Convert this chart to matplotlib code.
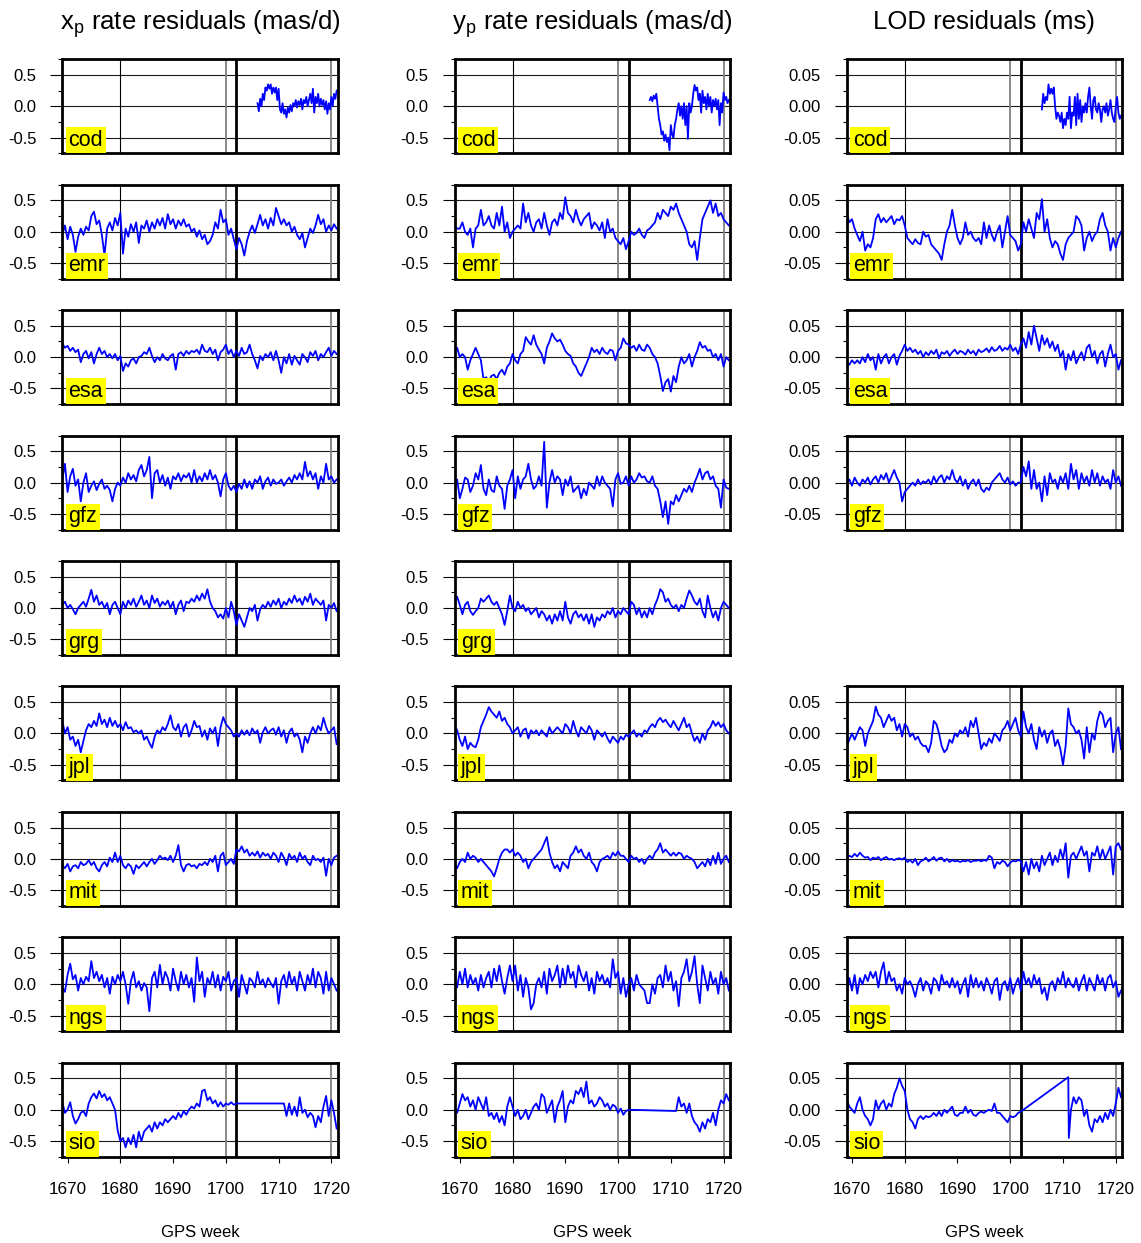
import numpy as np
import matplotlib
matplotlib.use('Agg')
import matplotlib.pyplot as plt

plt.rcParams['font.family'] = ['Liberation Sans', 'DejaVu Sans']
plt.rcParams['mathtext.fontset'] = 'custom'
plt.rcParams['mathtext.rm'] = 'Liberation Sans'

# ---------------- data (GPS weeks, residuals) ----------------
CENTERS = ['cod', 'emr', 'esa', 'gfz', 'grg', 'jpl', 'mit', 'ngs', 'sio']
TITLES = [r'x$_\mathregular{p}$ rate residuals (mas/d)',
          r'y$_\mathregular{p}$ rate residuals (mas/d)',
          'LOD residuals (ms)']
XTICKS = [1670, 1680, 1690, 1700, 1710, 1720]
YTICK_LABELS_RATE = ['-0.5', '0.0', '0.5']
YTICK_LABELS_LOD = ['-0.05', '0.00', '0.05']

FULL_START = 1669.0      # full series: half-week sampling
COD_START = 1706.0       # cod series: quarter-week sampling
SIO_GAP_END = 1711.0

# ---- x_p rate residuals (mas/d)
XP_COD = [0.05, -0.08, 0.12, 0.0, 0.2, 0.1, 0.3, 0.25, 0.35, 0.28,
          0.35, 0.2, 0.3, 0.22, 0.3, 0.1, 0.28, -0.05, -0.1, 0.05,
          -0.12, -0.05, -0.18, -0.02, -0.1, 0.02, -0.08, 0.05, 0.0, 0.1,
          -0.02, 0.08, 0.02, 0.12, -0.05, 0.1, 0.05, 0.15, 0.0, 0.1,
          0.2, 0.05, 0.28, -0.1, 0.15, 0.05, 0.2, 0.0, 0.12, 0.02,
          0.1, -0.05, 0.08, -0.12, 0.05, -0.05, 0.15, 0.0, 0.2, 0.12,
          0.25]
XP_EMR = [-0.05, 0.1, -0.12, 0.08, -0.05, -0.32, -0.08, 0.05, -0.05, 0.08,
          0.02, 0.25, 0.32, 0.12, 0.18, -0.05, -0.38, 0.05, 0.15, 0.02,
          0.22, 0.1, 0.3, -0.35, 0.05, -0.08, 0.12, 0.0, 0.15, -0.18,
          0.1, 0.05, 0.18, 0.0, 0.15, 0.05, 0.2, 0.1, 0.22, 0.05,
          0.28, 0.12, 0.2, 0.05, 0.18, 0.1, 0.2, 0.08, 0.12, 0.0,
          0.05, -0.08, 0.02, -0.12, -0.05, -0.2, -0.15, -0.05, 0.15, 0.05,
          0.35, 0.15, 0.2, -0.05, 0.05, -0.12, -0.28, -0.1, -0.2, -0.38,
          -0.15, 0.0, 0.1, -0.02, 0.12, 0.27, 0.1, 0.2, 0.05, 0.22,
          0.1, 0.38, 0.25, 0.12, 0.2, 0.1, 0.15, 0.0, 0.08, -0.05,
          -0.12, -0.02, -0.25, -0.1, 0.05, -0.02, 0.1, 0.27, 0.12, 0.2,
          0.0, 0.1, 0.02, 0.12, 0.05]
XP_ESA = [0.22, 0.15, 0.18, 0.1, 0.15, 0.08, 0.12, -0.08, 0.05, 0.1,
          -0.02, 0.08, -0.1, 0.05, 0.15, 0.05, 0.1, 0.0, 0.05, -0.02,
          0.05, -0.05, 0.02, -0.22, -0.1, -0.15, -0.05, -0.02, -0.1, 0.0,
          0.02, 0.08, 0.05, 0.15, 0.02, -0.08, 0.0, -0.05, 0.05, -0.02,
          -0.05, 0.02, 0.05, -0.2, 0.05, 0.08, 0.02, 0.1, 0.05, 0.1,
          0.08, 0.12, 0.05, 0.2, 0.1, 0.08, 0.15, 0.05, 0.12, -0.05,
          0.08, 0.12, 0.2, 0.05, 0.12, 0.0, 0.1, 0.02, 0.15, 0.05,
          0.08, 0.2, 0.05, -0.05, -0.18, 0.02, -0.05, 0.05, 0.0, 0.08,
          -0.05, 0.1, -0.05, -0.25, 0.0, -0.1, 0.05, -0.12, 0.02, -0.05,
          -0.12, 0.05, 0.0, -0.08, 0.08, 0.02, 0.1, -0.05, 0.05, 0.0,
          0.08, 0.15, 0.02, 0.1, 0.05]
XP_GFZ = [0.05, 0.3, -0.15, 0.1, 0.22, -0.05, 0.05, -0.3, 0.0, 0.15,
          -0.15, -0.05, 0.02, -0.12, -0.02, 0.05, -0.1, -0.05, -0.12, -0.3,
          -0.1, 0.0, -0.05, 0.08, 0.0, 0.15, 0.05, 0.12, 0.02, 0.2,
          0.28, 0.1, 0.2, 0.41, -0.25, 0.15, 0.2, 0.0, 0.12, -0.05,
          0.08, -0.1, 0.1, 0.05, 0.15, 0.02, 0.12, 0.08, 0.15, 0.0,
          0.2, 0.0, 0.1, 0.02, 0.15, 0.05, 0.2, 0.05, 0.12, 0.0,
          -0.22, 0.05, 0.15, -0.05, -0.12, -0.05, -0.15, -0.02, -0.1, 0.05,
          -0.08, 0.02, -0.1, 0.05, 0.0, 0.1, -0.1, 0.02, 0.08, -0.05,
          0.05, -0.02, 0.0, 0.05, -0.05, 0.02, 0.08, 0.0, 0.12, 0.05,
          0.15, 0.05, 0.33, 0.1, 0.18, 0.05, 0.15, -0.1, 0.1, 0.0,
          0.3, 0.05, 0.1, 0.0, 0.05]
XP_GRG = [0.05, 0.1, 0.0, 0.05, -0.02, -0.1, 0.0, 0.05, 0.1, 0.02,
          0.15, 0.29, 0.1, 0.2, 0.05, 0.1, 0.0, 0.08, -0.1, 0.05,
          0.1, 0.0, -0.1, 0.1, 0.0, 0.12, 0.05, 0.15, 0.02, 0.1,
          0.2, 0.05, 0.12, 0.0, 0.2, 0.08, 0.15, 0.02, 0.1, 0.05,
          0.12, 0.0, 0.1, -0.1, 0.05, 0.12, -0.05, 0.1, 0.08, 0.15,
          0.1, 0.2, 0.12, 0.23, 0.15, 0.3, 0.1, 0.0, -0.05, -0.15,
          -0.1, -0.17, 0.0, -0.15, 0.1, -0.05, -0.27, -0.1, -0.2, -0.3,
          -0.15, 0.0, -0.05, 0.05, -0.2, -0.02, 0.05, 0.0, 0.1, 0.02,
          0.12, 0.05, 0.15, 0.0, 0.1, 0.05, 0.15, 0.08, 0.2, 0.1,
          0.15, 0.05, 0.18, 0.1, 0.23, 0.05, 0.15, 0.1, 0.05, 0.12,
          -0.2, 0.05, 0.0, 0.08, -0.05]
XP_JPL = [0.2, 0.0, 0.1, -0.1, -0.05, -0.2, -0.1, -0.3, -0.12, 0.05,
          0.15, 0.1, 0.2, 0.12, 0.32, 0.15, 0.22, 0.1, 0.25, 0.12,
          0.2, 0.1, 0.15, 0.05, 0.18, 0.08, 0.1, 0.02, 0.05, 0.0,
          0.05, -0.1, -0.05, -0.15, -0.23, -0.05, 0.05, 0.0, 0.1, 0.05,
          0.15, 0.29, 0.1, 0.05, 0.15, -0.05, 0.1, 0.15, -0.05, 0.05,
          0.2, 0.1, 0.12, -0.05, 0.05, -0.1, 0.08, 0.0, 0.1, -0.2,
          0.1, 0.26, 0.15, 0.1, 0.05, -0.05, 0.0, -0.05, 0.05, -0.02,
          0.05, -0.03, 0.08, 0.0, 0.05, -0.15, 0.02, 0.1, 0.0, 0.05,
          0.08, -0.02, 0.1, -0.05, 0.05, -0.15, 0.02, 0.08, -0.05, 0.0,
          -0.1, -0.3, -0.05, -0.15, 0.0, 0.1, 0.0, 0.12, 0.05, 0.25,
          0.1, 0.0, 0.05, 0.1, -0.17]
XP_MIT = [-0.1, -0.15, -0.08, -0.2, -0.12, -0.1, -0.15, -0.05, -0.1, -0.08,
          -0.02, -0.1, -0.05, -0.15, -0.2, -0.1, -0.05, -0.12, 0.02, -0.05,
          0.1, -0.05, 0.05, -0.1, -0.15, -0.08, -0.12, -0.24, -0.1, -0.15,
          -0.1, -0.05, -0.12, -0.05, 0.0, -0.08, -0.02, 0.05, 0.0, 0.02,
          -0.02, 0.05, -0.05, 0.05, 0.22, -0.1, -0.2, -0.1, -0.08, -0.12,
          -0.1, -0.15, -0.08, -0.1, -0.05, -0.1, 0.0, -0.05, 0.05, -0.2,
          0.05, 0.1, -0.1, -0.05, 0.0, -0.08, 0.15, 0.12, 0.2, 0.1,
          0.15, 0.05, 0.1, 0.05, 0.12, 0.02, 0.1, 0.05, 0.08, 0.0,
          0.1, 0.05, -0.05, 0.1, 0.02, -0.1, 0.08, 0.0, 0.05, -0.05,
          0.1, 0.0, 0.05, -0.05, -0.1, 0.05, -0.02, 0.0, -0.05, 0.02,
          -0.27, 0.0, -0.1, 0.02, 0.05]
XP_NGS = [-0.05, -0.12, 0.15, 0.33, 0.08, 0.15, -0.1, 0.1, 0.0, 0.12,
          0.05, 0.37, 0.1, 0.2, 0.05, 0.15, -0.05, 0.1, -0.15, 0.12,
          0.0, 0.15, 0.05, 0.2, 0.0, -0.31, 0.05, 0.2, -0.05, 0.05,
          -0.1, 0.02, -0.05, -0.43, 0.1, 0.2, -0.05, 0.31, 0.0, 0.2,
          0.1, -0.1, 0.25, 0.05, -0.1, 0.2, 0.0, 0.15, -0.05, 0.1,
          -0.28, 0.43, 0.05, 0.2, -0.2, 0.1, 0.0, 0.2, -0.05, 0.15,
          -0.1, 0.12, 0.05, 0.2, -0.1, 0.05, 0.1, -0.2, 0.15, 0.0,
          -0.15, 0.1, 0.05, -0.05, 0.2, 0.0, 0.08, -0.05, 0.1, 0.02,
          -0.05, 0.1, -0.31, 0.05, 0.15, -0.05, 0.2, 0.0, 0.12, -0.1,
          0.2, 0.05, -0.1, 0.15, 0.0, 0.25, -0.05, 0.2, 0.1, -0.15,
          0.2, -0.1, 0.1, 0.0, -0.1]
XP_SIO_A = [0.12, -0.05, 0.0, 0.12, -0.1, -0.22, -0.15, -0.05, -0.02, -0.1,
            0.1, 0.2, 0.26, 0.18, 0.3, 0.2, 0.25, 0.15, 0.2, 0.1,
            0.0, -0.33, -0.5, -0.45, -0.6, -0.45, -0.55, -0.4, -0.6, -0.35,
            -0.5, -0.35, -0.3, -0.25, -0.35, -0.2, -0.3, -0.2, -0.25, -0.15,
            -0.2, -0.15, -0.1, -0.15, -0.05, -0.12, -0.02, -0.08, 0.0, 0.05,
            0.02, 0.1, 0.05, 0.3, 0.32, 0.15, 0.2, 0.1, 0.15, 0.05,
            0.12, 0.05, 0.1, 0.08, 0.12, 0.08, 0.1]
XP_SIO_B = [0.1, -0.1, 0.1, -0.08, 0.05, -0.1, 0.2, -0.05, 0.0, -0.12,
            -0.05, -0.1, -0.28, -0.1, -0.2, 0.05, 0.22, -0.1, 0.15, -0.05,
            -0.3]

# ---- y_p rate residuals (mas/d)
YP_COD = [0.1, 0.15, 0.08, 0.17, 0.12, 0.2, 0.0, -0.2, -0.3, -0.45,
          -0.4, -0.55, -0.45, -0.57, -0.5, -0.7, -0.3, -0.45, -0.5, -0.3,
          -0.2, -0.05, 0.05, -0.15, 0.0, -0.2, 0.05, -0.3, 0.0, -0.52,
          0.05, -0.1, 0.0, 0.2, 0.34, 0.25, 0.3, 0.1, 0.2, -0.1,
          0.25, 0.05, 0.15, -0.05, 0.2, 0.0, 0.15, -0.1, 0.1, 0.0,
          0.12, -0.05, 0.1, -0.3, 0.05, -0.1, 0.22, 0.1, 0.15, 0.05,
          0.1]
YP_EMR = [0.1, 0.05, 0.05, 0.15, 0.0, -0.05, 0.05, -0.25, 0.05, 0.1,
          0.35, 0.1, 0.15, 0.25, 0.1, 0.05, 0.3, 0.1, 0.4, 0.0,
          0.15, -0.1, 0.0, 0.05, 0.1, 0.05, 0.45, 0.15, 0.3, 0.1,
          0.0, 0.15, 0.2, 0.05, 0.3, 0.1, -0.05, 0.15, 0.2, 0.1,
          0.3, 0.2, 0.55, 0.3, 0.25, 0.15, 0.35, 0.2, 0.1, 0.2,
          0.25, 0.3, 0.05, 0.15, 0.1, 0.02, 0.15, -0.1, 0.2, 0.0,
          0.05, -0.1, -0.15, -0.2, -0.1, -0.28, -0.15, 0.0, -0.05, -0.02,
          0.05, -0.05, -0.1, 0.02, 0.05, 0.1, 0.15, 0.3, 0.2, 0.35,
          0.3, 0.25, 0.4, 0.35, 0.45, 0.3, 0.2, 0.1, 0.0, -0.2,
          -0.25, -0.15, -0.45, -0.1, 0.2, 0.3, 0.4, 0.5, 0.3, 0.45,
          0.25, 0.3, 0.2, 0.15, 0.1]
YP_ESA = [0.1, 0.15, 0.0, 0.05, 0.0, -0.2, -0.05, 0.05, 0.15, 0.05,
          -0.05, -0.35, -0.32, -0.38, -0.3, -0.28, -0.35, -0.25, -0.2, -0.28,
          -0.15, -0.1, 0.05, -0.05, -0.1, 0.05, 0.1, 0.32, 0.25, 0.2,
          0.35, 0.2, 0.12, 0.05, -0.1, 0.15, 0.25, 0.38, 0.3, 0.25,
          0.28, 0.2, 0.1, 0.05, 0.02, -0.1, -0.15, -0.25, -0.3, -0.2,
          -0.1, 0.0, 0.15, 0.08, 0.12, 0.05, 0.15, 0.08, 0.05, 0.12,
          0.1, -0.05, 0.1, 0.15, 0.3, 0.22, 0.2, 0.15, 0.18, 0.1,
          0.2, 0.12, 0.1, 0.2, 0.15, 0.05, 0.0, -0.1, -0.3, -0.54,
          -0.4, -0.35, -0.55, -0.3, -0.4, -0.15, 0.0, -0.1, -0.05, 0.05,
          -0.15, 0.0, 0.1, 0.24, 0.15, 0.18, 0.1, 0.12, 0.0, 0.05,
          -0.05, 0.05, -0.15, 0.0, -0.05]
YP_GFZ = [-0.05, 0.05, -0.25, -0.1, 0.08, 0.05, -0.15, -0.05, 0.15, 0.05,
          0.28, -0.1, -0.2, 0.05, -0.12, -0.15, 0.1, -0.05, -0.1, -0.42,
          -0.05, 0.05, 0.2, -0.25, 0.1, -0.1, 0.05, 0.1, 0.3, 0.05,
          -0.1, -0.05, 0.1, -0.05, 0.65, -0.4, 0.0, 0.2, 0.0, 0.1,
          0.05, -0.2, 0.05, -0.05, 0.1, -0.15, -0.1, -0.05, -0.25, -0.1,
          -0.2, 0.0, -0.05, -0.1, 0.1, -0.05, 0.1, 0.0, -0.05, -0.1,
          -0.38, 0.05, 0.15, -0.02, 0.0, 0.1, -0.05, 0.1, 0.0, 0.05,
          0.15, 0.08, 0.1, 0.02, 0.0, 0.1, -0.05, -0.1, -0.3, -0.55,
          -0.3, -0.66, -0.3, -0.35, -0.2, -0.3, -0.2, -0.1, -0.15, -0.05,
          -0.15, 0.0, 0.1, 0.22, 0.05, 0.15, 0.18, 0.05, 0.1, -0.05,
          -0.1, -0.4, 0.05, -0.08, -0.1]
YP_GRG = [0.1, 0.18, 0.05, -0.1, 0.05, 0.1, -0.05, -0.11, -0.05, 0.0,
          0.15, 0.1, 0.15, 0.2, 0.1, 0.05, 0.1, 0.0, -0.1, -0.27,
          -0.05, 0.2, 0.0, -0.05, 0.1, 0.0, 0.05, -0.05, 0.0, -0.1,
          -0.05, 0.0, -0.15, -0.05, -0.1, -0.2, -0.12, -0.25, -0.1, -0.2,
          -0.05, -0.2, 0.1, -0.15, -0.25, -0.1, -0.05, -0.15, -0.1, -0.2,
          -0.1, -0.25, -0.1, -0.3, -0.15, -0.2, -0.1, -0.15, -0.05, -0.1,
          0.0, -0.15, -0.05, -0.1, 0.0, -0.05, -0.1, 0.1, 0.05, -0.1,
          0.0, -0.15, -0.05, -0.15, 0.0, -0.1, 0.05, 0.15, 0.3, 0.25,
          0.1, 0.15, 0.05, 0.0, 0.05, -0.05, 0.05, 0.0, 0.15, 0.28,
          0.2, 0.1, 0.05, 0.15, -0.05, -0.15, 0.2, 0.0, -0.15, -0.05,
          -0.2, 0.0, 0.1, 0.05, 0.0]
YP_JPL = [0.13, 0.05, -0.1, -0.2, -0.05, -0.25, -0.15, -0.2, -0.22, -0.1,
          0.1, 0.2, 0.3, 0.42, 0.35, 0.3, 0.25, 0.35, 0.2, 0.25,
          0.15, 0.1, 0.0, 0.05, 0.1, -0.05, 0.05, 0.08, -0.08, 0.05,
          0.0, 0.05, -0.03, 0.05, 0.0, -0.05, 0.1, 0.0, 0.05, 0.1,
          0.05, 0.0, 0.15, 0.1, 0.0, 0.2, 0.05, -0.05, 0.1, 0.05,
          0.0, 0.12, 0.05, -0.1, 0.05, 0.0, -0.05, 0.02, -0.08, -0.15,
          -0.05, -0.1, -0.15, -0.05, -0.1, -0.02, -0.05, 0.0, 0.05, -0.05,
          0.0, -0.05, 0.05, 0.02, 0.1, 0.15, 0.1, 0.2, 0.25, 0.18,
          0.22, 0.15, 0.1, 0.2, 0.12, 0.05, 0.15, 0.25, 0.1, 0.15,
          0.0, -0.12, -0.05, -0.15, 0.0, -0.1, 0.05, 0.1, 0.2, 0.12,
          0.18, 0.1, 0.15, 0.05, 0.0]
YP_MIT = [-0.1, -0.15, -0.05, 0.0, -0.05, 0.1, 0.0, 0.05, 0.02, -0.05,
          0.0, -0.05, -0.1, -0.15, -0.2, -0.28, -0.15, 0.0, 0.1, 0.15,
          0.15, 0.1, 0.15, 0.05, 0.1, 0.05, -0.05, 0.0, -0.15, -0.05,
          0.0, 0.05, 0.1, 0.15, 0.25, 0.35, 0.1, -0.05, -0.15, -0.1,
          -0.2, -0.05, -0.1, -0.15, 0.05, 0.1, 0.2, 0.1, 0.15, 0.05,
          0.0, 0.1, -0.05, -0.1, -0.2, -0.05, 0.0, 0.02, 0.05, 0.0,
          0.1, 0.05, 0.12, 0.05, 0.05, 0.0, -0.05, 0.05, 0.0, 0.02,
          -0.05, 0.0, -0.08, 0.0, 0.05, 0.0, 0.1, 0.15, 0.25, 0.1,
          0.15, 0.1, 0.05, 0.1, 0.05, 0.1, 0.08, 0.0, 0.05, 0.02,
          0.0, -0.05, -0.15, -0.1, -0.05, -0.12, 0.0, -0.1, 0.05, -0.08,
          0.1, -0.08, 0.0, 0.05, -0.05]
YP_NGS = [0.05, -0.05, 0.2, 0.0, 0.25, -0.05, 0.15, 0.0, 0.1, -0.1,
          0.15, -0.05, 0.1, 0.2, -0.05, 0.25, 0.05, 0.3, 0.05, -0.15,
          0.1, 0.3, 0.05, 0.3, -0.1, 0.15, -0.2, 0.1, -0.05, -0.4,
          -0.3, 0.0, 0.1, -0.05, 0.2, -0.15, 0.25, 0.05, 0.15, 0.3,
          -0.05, 0.25, 0.0, 0.3, 0.1, 0.2, -0.05, 0.3, 0.15, 0.05,
          0.2, -0.1, 0.1, -0.15, 0.2, 0.05, 0.15, 0.0, 0.1, -0.05,
          0.4, 0.1, 0.2, -0.15, 0.1, -0.2, 0.0, 0.1, -0.1, 0.15,
          0.0, -0.05, -0.1, -0.3, -0.3, 0.0, -0.15, 0.1, 0.15, -0.05,
          0.3, 0.05, 0.2, -0.1, 0.05, -0.35, 0.1, 0.2, 0.4, 0.05,
          0.2, 0.45, 0.0, -0.3, 0.3, 0.1, -0.1, 0.2, 0.0, 0.1,
          -0.15, 0.2, 0.0, 0.1, -0.1]
YP_SIO_A = [0.0, -0.05, 0.1, 0.25, 0.15, 0.2, 0.05, 0.15, 0.0, 0.2,
            0.1, 0.0, 0.2, -0.1, -0.05, -0.15, -0.05, -0.2, -0.1, -0.25,
            0.05, 0.2, 0.05, -0.1, 0.0, -0.15, -0.1, 0.0, -0.15, -0.05,
            0.05, 0.1, 0.0, 0.25, 0.2, -0.05, 0.05, 0.15, -0.2, 0.05,
            0.15, 0.3, -0.2, 0.05, 0.15, 0.1, 0.3, 0.25, 0.35, 0.2,
            0.45, 0.1, 0.15, 0.05, 0.1, 0.2, 0.15, 0.05, 0.1, 0.0,
            0.08, 0.05, -0.05, 0.02, -0.08, -0.02, 0.0]
YP_SIO_B = [-0.02, 0.2, 0.05, 0.1, -0.05, 0.1, -0.1, -0.2, -0.25, -0.35,
            -0.2, -0.3, -0.15, -0.2, -0.05, -0.25, 0.0, 0.15, 0.1, 0.25,
            0.15]

# ---- LOD residuals (ms)
LOD_COD = [-0.005, 0.02, 0.005, 0.015, 0.01, 0.035, 0.02, 0.028, 0.02, 0.03,
           0.0, -0.02, -0.01, -0.015, -0.025, -0.01, -0.035, -0.02, -0.03, -0.01,
           -0.02, 0.015, -0.035, -0.01, -0.015, 0.015, -0.03, 0.02, -0.02, 0.01,
           -0.025, 0.0, -0.01, 0.005, -0.01, 0.015, 0.03, 0.0, -0.02, 0.01,
           0.015, -0.005, -0.01, 0.005, -0.005, -0.025, -0.005, 0.0, -0.01, 0.005,
           -0.015, -0.005, 0.01, -0.01, -0.02, -0.025, 0.0, 0.015, -0.01, -0.02,
           -0.015]
LOD_EMR = [0.03, 0.015, 0.02, 0.005, -0.005, -0.015, 0.0, -0.03, -0.02, -0.025,
           -0.01, 0.02, 0.028, 0.015, 0.022, 0.015, 0.02, 0.025, 0.012, 0.02,
           0.018, 0.025, 0.01, -0.01, -0.015, -0.02, -0.012, -0.018, -0.02, 0.0,
           -0.008, -0.005, -0.02, -0.025, -0.03, -0.035, -0.045, -0.02, 0.0, 0.01,
           0.035, 0.01, -0.01, -0.02, -0.01, 0.015, -0.005, 0.0, -0.01, -0.015,
           -0.01, -0.02, 0.015, -0.01, 0.01, -0.005, -0.015, 0.0, 0.01, -0.025,
           0.0, 0.025, -0.005, -0.01, -0.015, -0.03, -0.02, 0.015, 0.0, 0.02,
           0.005, -0.01, 0.03, 0.02, 0.052, 0.0, 0.02, -0.01, -0.025, -0.015,
           -0.02, -0.035, -0.045, -0.02, -0.01, -0.005, 0.0, 0.025, 0.02, 0.01,
           -0.03, -0.01, 0.0, -0.015, -0.005, 0.0, 0.02, 0.03, 0.01, 0.0,
           -0.03, -0.01, -0.025, -0.01, 0.0]
LOD_ESA = [-0.01, -0.012, -0.005, -0.01, -0.005, -0.01, 0.0, -0.008, 0.005, -0.005,
           0.0, -0.02, 0.005, -0.01, 0.0, 0.005, -0.01, 0.0, 0.005, -0.012,
           0.002, 0.01, 0.02, 0.01, 0.015, 0.008, 0.012, 0.005, 0.01, 0.0,
           0.008, 0.003, 0.01, 0.005, 0.012, -0.002, 0.008, 0.005, 0.01, 0.002,
           0.008, 0.012, 0.005, 0.01, 0.008, 0.004, 0.012, 0.006, 0.01, 0.003,
           0.012, 0.008, 0.01, 0.014, 0.008, 0.016, 0.01, 0.012, 0.018, 0.01,
           0.015, 0.012, 0.02, 0.01, 0.015, 0.005, 0.02, 0.03, 0.015, 0.04,
           0.02, 0.05, 0.03, 0.01, 0.035, 0.02, 0.03, 0.015, 0.025, 0.01,
           0.02, 0.0, 0.01, -0.02, 0.005, -0.005, 0.01, -0.01, 0.0, 0.008,
           -0.005, 0.015, 0.02, 0.0, 0.01, -0.01, 0.005, 0.01, -0.015, 0.005,
           0.02, 0.0, 0.005, -0.02, -0.005]
LOD_GFZ = [0.0, 0.005, -0.005, 0.008, 0.0, -0.005, 0.005, 0.0, 0.008, -0.003,
           0.005, 0.01, 0.0, 0.012, 0.005, 0.015, 0.0, 0.01, 0.02, 0.008,
           0.0, -0.03, -0.015, -0.01, -0.005, 0.0, -0.005, 0.005, -0.003, 0.002,
           0.0, 0.005, -0.003, 0.01, 0.0, 0.008, 0.012, 0.0, 0.01, 0.005,
           0.02, 0.005, 0.0, 0.01, -0.005, 0.005, -0.01, 0.0, 0.005, -0.005,
           0.005, -0.01, -0.015, -0.008, -0.012, 0.0, 0.005, 0.01, 0.015, 0.005,
           0.0, 0.008, -0.003, 0.002, -0.005, 0.0, 0.0, 0.025, 0.01, 0.034,
           -0.01, 0.02, -0.01, 0.0, -0.03, 0.01, -0.02, 0.015, 0.0, 0.005,
           -0.01, 0.01, 0.0, 0.015, -0.01, 0.03, 0.005, 0.02, -0.01, 0.015,
           0.0, 0.01, -0.005, 0.02, 0.0, 0.015, -0.005, 0.01, 0.0, 0.005,
           -0.01, 0.02, 0.0, 0.01, -0.005]
LOD_JPL = [-0.02, -0.01, 0.0, -0.01, 0.0, 0.01, 0.005, -0.02, 0.0, 0.01,
           0.02, 0.043, 0.03, 0.025, 0.01, 0.02, 0.03, 0.02, 0.025, 0.005,
           0.015, -0.005, 0.015, 0.01, -0.005, 0.0, -0.01, -0.005, -0.015, -0.02,
           -0.02, -0.03, -0.015, 0.02, 0.015, 0.0, -0.02, -0.03, -0.025, -0.01,
           -0.015, 0.0, -0.005, 0.005, 0.0, 0.01, -0.005, 0.02, 0.01, 0.025,
           0.0, -0.025, -0.015, -0.02, -0.008, -0.015, 0.0, -0.005, -0.012, 0.005,
           0.01, 0.02, 0.005, 0.015, 0.025, 0.005, -0.005, 0.035, 0.01, 0.0,
           0.015, -0.01, -0.025, 0.01, -0.005, 0.005, -0.015, 0.0, 0.005, -0.02,
           -0.01, -0.025, -0.05, -0.02, 0.04, 0.015, 0.01, 0.0, 0.005, -0.01,
           -0.04, 0.01, -0.03, 0.0, -0.01, 0.02, 0.035, 0.03, 0.01, 0.02,
           0.025, -0.03, 0.0, 0.01, -0.025]
LOD_MIT = [0.002, 0.005, 0.003, 0.008, 0.004, 0.01, 0.005, 0.002, 0.003, -0.002,
           0.002, 0.0, 0.003, -0.002, 0.001, 0.003, -0.001, 0.0, -0.002, 0.0,
           0.001, -0.001, 0.002, -0.005, -0.002, -0.006, 0.0, -0.01, -0.004, -0.002,
           0.002, -0.004, -0.001, 0.003, -0.003, 0.001, 0.002, -0.004, 0.0, -0.005,
           -0.002, -0.004, -0.003, -0.005, -0.003, -0.004, -0.002, -0.005, -0.003, -0.003,
           -0.002, -0.004, -0.002, -0.003, 0.005, 0.002, -0.015, -0.005, -0.008, -0.003,
           -0.005, -0.012, -0.006, -0.003, -0.004, -0.002, -0.003, -0.02, -0.005, -0.025,
           0.0, -0.015, -0.005, -0.02, 0.005, -0.01, 0.0, 0.01, -0.01, 0.005,
           -0.005, 0.015, 0.0, 0.025, -0.03, 0.005, 0.01, 0.0, 0.01, 0.02,
           0.005, 0.012, -0.02, 0.01, 0.005, 0.02, 0.0, 0.015, 0.0, 0.01,
           0.02, -0.025, 0.02, 0.025, 0.015]
LOD_NGS = [-0.015, 0.01, -0.01, 0.015, -0.015, 0.01, 0.0, 0.015, 0.005, 0.02,
           0.01, 0.02, -0.005, 0.02, 0.035, 0.0, 0.02, 0.005, 0.01, -0.01,
           0.0, -0.015, 0.01, 0.0, 0.005, -0.005, -0.02, 0.0, 0.01, -0.01,
           0.005, 0.0, -0.015, 0.01, 0.005, -0.01, 0.015, 0.0, 0.005, -0.005,
           0.01, -0.005, 0.005, -0.015, 0.0, 0.01, -0.02, 0.015, -0.005, 0.01,
           -0.005, 0.005, -0.01, 0.01, 0.0, -0.015, 0.005, 0.01, -0.025, 0.0,
           0.005, -0.01, 0.01, -0.015, 0.0, 0.01, -0.01, 0.02, 0.0, 0.01,
           -0.005, 0.015, 0.0, 0.01, -0.015, -0.005, -0.025, 0.0, 0.005, -0.01,
           0.01, 0.0, 0.02, -0.005, 0.01, 0.0, -0.005, 0.01, -0.01, 0.005,
           0.015, -0.01, 0.01, 0.0, -0.01, 0.015, 0.0, 0.01, -0.01, 0.01,
           0.015, -0.005, 0.005, -0.02, -0.01]
LOD_SIO_A = [0.015, 0.005, 0.0, -0.005, 0.01, 0.02, 0.0, -0.01, -0.015, -0.025,
             -0.015, 0.015, 0.0, 0.01, 0.015, 0.0, 0.01, 0.005, 0.025, 0.035,
             0.05, 0.038, 0.03, 0.0, -0.015, -0.02, -0.03, -0.015, -0.01, -0.015,
             -0.01, -0.012, -0.01, -0.005, -0.01, -0.003, -0.01, 0.0, -0.005, 0.0,
             0.005, -0.008, -0.01, -0.005, -0.005, 0.005, -0.005, 0.0, -0.008, -0.01,
             -0.005, -0.003, -0.005, -0.002, 0.0, -0.002, 0.01, -0.005, -0.005, -0.01,
             -0.015, -0.02, -0.01, -0.012, -0.01, -0.005, -0.003]
LOD_SIO_B_WEEKS = [1711.0, 1711.1, 1711.5, 1712.0, 1712.5, 1713.0, 1713.5, 1714.0,
                   1714.5, 1715.0, 1715.5, 1716.0, 1716.5, 1717.0, 1717.5, 1718.0,
                   1718.5, 1719.0, 1719.5, 1720.0, 1720.5, 1721.0]
LOD_SIO_B = [0.052, -0.045, 0.0, 0.02, 0.01, 0.02, 0.015, -0.01,
             0.0, -0.025, -0.035, -0.015, -0.02, -0.01, -0.02, -0.005,
             -0.015, 0.0, -0.01, 0.01, 0.035, 0.02]


def regular(start, vals, step):
    return start + step * np.arange(len(vals)), np.asarray(vals, float)


def sio(a_vals, b_vals, b_weeks=None):
    xa = FULL_START + 0.5 * np.arange(len(a_vals))
    xb = (np.asarray(b_weeks, float) if b_weeks is not None
          else SIO_GAP_END + 0.5 * np.arange(len(b_vals)))
    return np.concatenate([xa, xb]), np.concatenate([a_vals, b_vals]).astype(float)


COLUMNS = [
    {'cod': regular(COD_START, XP_COD, 0.25), 'emr': regular(FULL_START, XP_EMR, 0.5),
     'esa': regular(FULL_START, XP_ESA, 0.5), 'gfz': regular(FULL_START, XP_GFZ, 0.5),
     'grg': regular(FULL_START, XP_GRG, 0.5), 'jpl': regular(FULL_START, XP_JPL, 0.5),
     'mit': regular(FULL_START, XP_MIT, 0.5), 'ngs': regular(FULL_START, XP_NGS, 0.5),
     'sio': sio(XP_SIO_A, XP_SIO_B)},
    {'cod': regular(COD_START, YP_COD, 0.25), 'emr': regular(FULL_START, YP_EMR, 0.5),
     'esa': regular(FULL_START, YP_ESA, 0.5), 'gfz': regular(FULL_START, YP_GFZ, 0.5),
     'grg': regular(FULL_START, YP_GRG, 0.5), 'jpl': regular(FULL_START, YP_JPL, 0.5),
     'mit': regular(FULL_START, YP_MIT, 0.5), 'ngs': regular(FULL_START, YP_NGS, 0.5),
     'sio': sio(YP_SIO_A, YP_SIO_B)},
    {'cod': regular(COD_START, LOD_COD, 0.25), 'emr': regular(FULL_START, LOD_EMR, 0.5),
     'esa': regular(FULL_START, LOD_ESA, 0.5), 'gfz': regular(FULL_START, LOD_GFZ, 0.5),
     'jpl': regular(FULL_START, LOD_JPL, 0.5),
     'mit': regular(FULL_START, LOD_MIT, 0.5), 'ngs': regular(FULL_START, LOD_NGS, 0.5),
     'sio': sio(LOD_SIO_A, LOD_SIO_B, LOD_SIO_B_WEEKS)},
]
SCALES = [1.0, 1.0, 0.1]

# ---------------- layout ----------------
W, H = 1141, 1243
fig = plt.figure(figsize=(W / 100, H / 100), dpi=100)

PX_LEFT0, PX_COLSTEP, PX_W = 62.3, 392.2, 275.4
PX_TOP0, PX_ROWSTEP, PX_H = 59.3, 125.43, 94.0

for c in range(3):
    s = SCALES[c]
    ylabels = YTICK_LABELS_LOD if c == 2 else YTICK_LABELS_RATE
    left = PX_LEFT0 + PX_COLSTEP * c
    for r, name in enumerate(CENTERS):
        if name not in COLUMNS[c]:
            continue
        top = PX_TOP0 + PX_ROWSTEP * r
        ax = fig.add_axes([left / W, 1 - (top + PX_H) / H, PX_W / W, PX_H / H])
        ax.set_xlim(1669.0, 1721.2)
        ax.set_ylim(-0.75 * s, 0.75 * s)
        for yv in (-0.5, 0.0, 0.5):
            ax.axhline(yv * s, color='#1a1a1a', lw=0.8, zorder=1)
        ax.axvline(1680, color='black', lw=0.8, zorder=1)
        ax.axvline(1700, color='#808080', lw=1.3, zorder=1)
        ax.axvline(1720, color='#808080', lw=1.3, zorder=1)
        ax.axvline(1702, color='black', lw=2.0, zorder=2)
        x, y = COLUMNS[c][name]
        ax.plot(x, y, color='#0000ff', lw=1.3, zorder=3)
        for sp in ax.spines.values():
            sp.set_linewidth(2.0)
            sp.set_zorder(4)
        ax.set_yticks([-0.5 * s, 0.0, 0.5 * s])
        ax.set_yticklabels(ylabels)
        ax.set_yticks([-0.75 * s, -0.25 * s, 0.25 * s, 0.75 * s], minor=True)
        ax.tick_params(axis='y', which='major', length=8.6, width=0.8, pad=10,
                       labelsize=12, direction='out')
        ax.tick_params(axis='y', which='minor', length=3, width=0.8, direction='out')
        if r == len(CENTERS) - 1:
            ax.set_xticks(XTICKS)
            ax.set_xticklabels([str(t) for t in XTICKS])
            ax.tick_params(axis='x', which='major', length=4.5, width=0.8, pad=13.5,
                           labelsize=12.3, direction='out')
        else:
            ax.set_xticks([])
        ax.text(6.3 / PX_W, 7.5 / PX_H, name, transform=ax.transAxes, ha='left',
                va='baseline', fontsize=15.5, zorder=5,
                bbox=dict(boxstyle='square,pad=0.12', fc='#ffff00', ec='none'))
    cx = (left + PX_W / 2) / W
    fig.text(cx, 1 - 29 / H, TITLES[c], ha='center', va='baseline', fontsize=18.5)
    fig.text(cx, 1 - 1237 / H, 'GPS week', ha='center', va='baseline', fontsize=12)

fig.savefig('out.png', dpi=100)
